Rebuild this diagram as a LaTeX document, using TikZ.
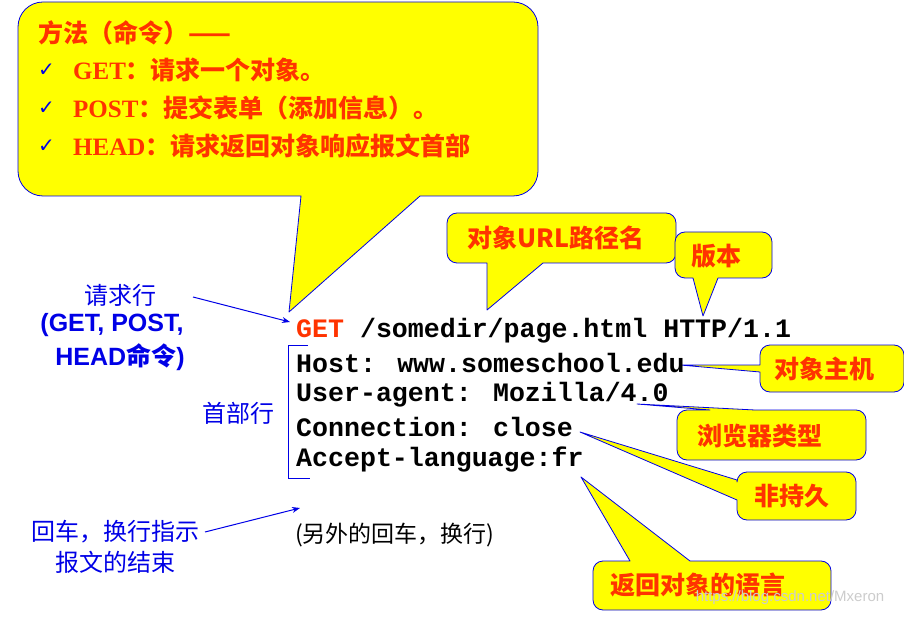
\documentclass[tikz,border=0pt]{standalone}
\usepackage{fontspec}
\usetikzlibrary{arrows.meta}
\setmainfont{Liberation Serif}
\newfontfamily\cjk{Noto Sans CJK SC}
\newfontfamily\mono{Liberation Mono}
\newfontfamily\sym{DejaVu Sans}
\newfontfamily\ssans{Liberation Sans}
\definecolor{cred}{RGB}{255,51,0}
\definecolor{cyel}{RGB}{255,255,0}
\definecolor{cblue}{RGB}{0,0,230}
\begin{document}
\begin{tikzpicture}[x=1pt,y=-1pt,
  callout/.style={fill=cyel,draw=cblue,line width=0.8pt,line join=round},
  ctext/.style={text=cred,font=\cjk\bfseries\fontsize{25}{28}\selectfont,inner sep=0pt},
  chk/.style={anchor=west,text=cblue,inner sep=0pt,font=\sym\bfseries\fontsize{20}{22}\selectfont},
  code/.style={anchor=west,inner sep=0pt,font=\mono\bfseries\fontsize{26.6}{28}\selectfont},
  blab/.style={text=cblue,inner sep=0pt,font=\cjk\fontsize{24}{28}\selectfont},
  bsans/.style={text=cblue,inner sep=0pt,font=\ssans\bfseries\fontsize{25}{28}\selectfont},
  barrow/.style={draw=cblue,line width=1pt,-{Stealth[length=8pt]}}]
\useasboundingbox (0,0) rectangle (904,617);
% main callout
\draw[callout] (301,196) [rounded corners=25pt] -- (18,196) -- (18,2) -- (538,2) -- (538,196) [sharp corners] -- (420,196) -- (289,312) -- cycle;
\node[ctext,anchor=west] (m0) at (38,33) {方法（命令）——};
\node[chk] (c1) at (38,70) {✓};
\node[chk] (c2) at (38,108) {✓};
\node[chk] (c3) at (38,146) {✓};
\node[ctext,anchor=west] (m1) at (73,70) {{\rmfamily\bfseries GET}：请求一个对象。};
\node[ctext,anchor=west] (m2) at (73,108) {{\rmfamily\bfseries POST}：提交表单（添加信息）。};
\node[ctext,anchor=west] (m3) at (73,146) {{\rmfamily\bfseries HEAD}：请求返回对象响应报文首部};
% URL callout
\draw[callout] (487,263) [rounded corners=10pt] -- (447,263) -- (447,213) -- (676,213) -- (676,263) [sharp corners] -- (543,263) -- (487,310) -- cycle;
\node[ctext] (u) at (556,238) {对象URL路径名};
% version
\draw[callout] (693,278) [rounded corners=10pt] -- (675,278) -- (675,232) -- (772,232) -- (772,278) [sharp corners] -- (718,278) -- (703,316) -- cycle;
\node[ctext] (v) at (716,256) {版本};
% host
\draw[callout] (760,372) [rounded corners=10pt] -- (760,392) -- (904,392) -- (904,345) -- (760,345) [sharp corners] -- (760,365) -- (680,365) -- cycle;
\node[ctext] (h) at (824,369) {对象主机};
% browser
\draw[callout] (755,410) [rounded corners=10pt] -- (866,410) -- (866,460) -- (677,460) -- (677,410) [sharp corners] -- (710,410) -- (637,404) -- cycle;
\node[ctext] (b) at (760,436) {浏览器类型};
% non-persistent
\draw[callout] (737,500) [rounded corners=10pt] -- (737,520) -- (856,520) -- (856,472) -- (737,472) [sharp corners] -- (737,480) -- (580,432) -- cycle;
\node[ctext] (n) at (792,496) {非持久};
% language
\draw[callout] (690,561) [rounded corners=10pt] -- (831,561) -- (831,610) -- (593,610) -- (593,561) [sharp corners] -- (630,561) -- (581,477) -- cycle;
\node[ctext] (l) at (698,585) {返回对象的语言};
% code
\node[code] (r1) at (296,331) {\textcolor{cred}{GET} /somedir/page.html HTTP/1.1};
\node[code] (r2) at (296,363) {Host: www.someschool.edu};
\node[code] (r3) at (296,395) {User-agent: Mozilla/4.0};
\node[code] (r4) at (296,427) {Connection: close};
\node[code] (r5) at (296,459) {Accept-language:fr};
\draw[cblue,line width=1pt] (308,345) -- (288,345) -- (288,478) -- (310,478);
% left labels
\node[blab] (q1) at (120,295) {请求行};
\node[bsans] (q2) at (112,325) {(GET, POST,};
\node[bsans] (q3) at (120,357) {HEAD{\cjk 命令})};
\node[blab] (hd) at (238,413) {首部行};
\node[blab] (e1) at (115,532) {回车，换行指示};
\node[blab] (e2) at (115,562) {报文的结束};
\coordinate (a1) at (290,322);
\coordinate (a2) at (300,508);
\draw[barrow] (193,297) -- (a1);
\draw[barrow] (205,532) -- (a2);
\node[anchor=west,inner sep=0pt,font=\cjk\fontsize{23}{26}\selectfont] (x) at (295,535) {(另外的回车，换行)};
\node[text=gray!40,inner sep=0pt,font=\ssans\fontsize{15}{17}\selectfont] (w) at (790,598) {https://blog.csdn.net/Mxeron};
\end{tikzpicture}
\end{document}
